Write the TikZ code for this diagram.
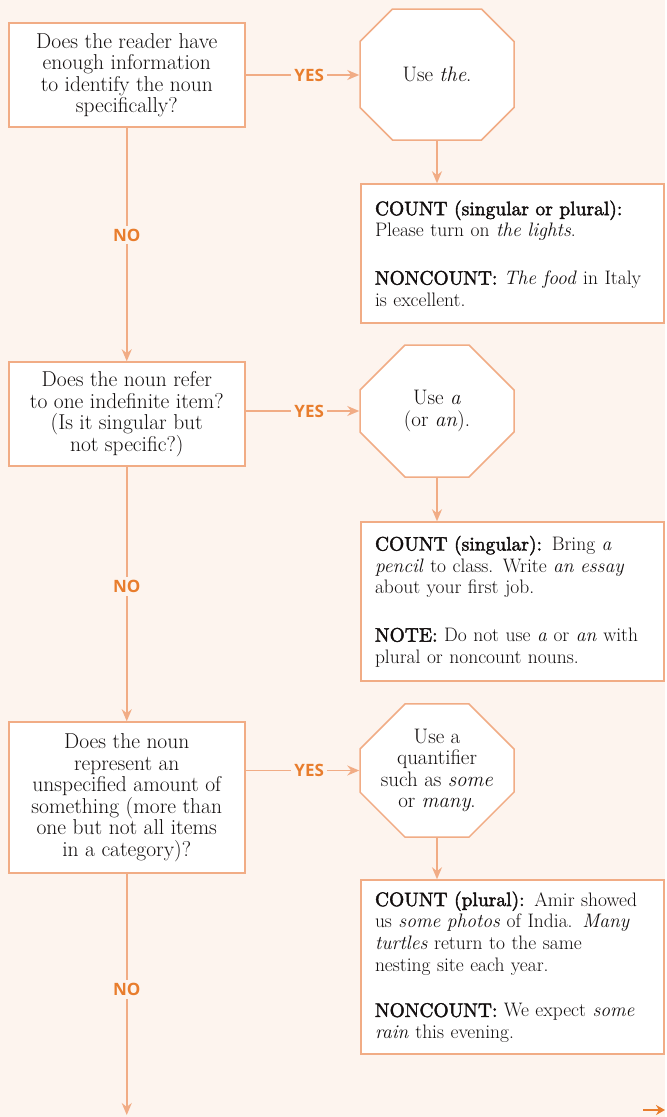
\documentclass[tikz,border=0pt]{standalone}
\usepackage{fontspec}
\newfontfamily\yesnofont{Open Sans}
\newfontfamily\countfont{lmroman10-regular}[Extension=.otf, FakeBold=2]
\usepackage{tikz}
\usetikzlibrary{arrows.meta,shapes.misc,positioning}
\definecolor{pagebg}{RGB}{253,244,238}
\definecolor{flowline}{RGB}{241,172,133}
\definecolor{flowlabel}{RGB}{232,125,45}
\definecolor{inktext}{RGB}{18,14,14}
\newcommand{\exlabel}[1]{{\countfont #1}}

\tikzset{
  question/.style={draw=flowline, line width=1.5pt, fill=white, align=center, minimum width=236pt, inner sep=0pt},
  usebox/.style={chamfered rectangle, chamfered rectangle xsep=20pt, chamfered rectangle ysep=25pt, draw=flowline, line width=1.5pt, fill=white, align=center, minimum width=154pt, inner sep=0pt, font=\fontsize{21}{21.5}\selectfont},
  example/.style={draw=flowline, line width=1.5pt, fill=white, align=left, text width=275pt, inner xsep=14pt, inner ysep=0pt, font=\fontsize{19.5}{21.7}\selectfont},
  flow/.style={flowline, line width=1.5pt, -{Stealth[length=12pt,width=10pt]}},
  answer/.style={fill=pagebg, text=flowlabel, font=\yesnofont\bfseries\fontsize{17}{17}\selectfont, inner sep=3pt},
}

\begin{document}
\begin{tikzpicture}[x=1pt, y=-1pt, every node/.style={font=\fontsize{21.5}{21.5}\selectfont, text=inktext}]
    % Page background
    \fill[pagebg] (0,0) rectangle (665,1117);

    % First question: the
    \node[question, minimum height=104pt] (q1) at (126.75,75) {Does the reader have\\enough information\\to identify the noun\\specifically?};
    \node[usebox, minimum height=131pt] (use1) at (437,74.5) {Use \textit{the}.};
    \node[example, minimum height=139pt] (ex1) at (512.5,253.5) {
        \exlabel{COUNT (singular or plural):}\\
        Please turn on \textit{the lights}.\\[26pt]
        \exlabel{NONCOUNT:} \textit{The food} in Italy\\
        is excellent.};

    % Second question: a or an
    \node[question, minimum height=104pt] (q2) at (126.75,414) {Does the noun refer\\to one indefinite item?\\(Is it singular but\\not specific?)};
    \node[usebox, minimum height=132pt] (use2) at (437,411) {Use \textit{a}\\(or \textit{an}).};
    \node[example, minimum height=159pt] (ex2) at (512.5,601.5) {
        \exlabel{COUNT (singular):} Bring \textit{a}\\
        \textit{pencil} to class. Write \textit{an essay}\\
        about your first job.\\[26pt]
        \exlabel{NOTE:} Do not use \textit{a} or \textit{an} with\\
        plural or noncount nouns.};

    % Third question: quantifier
    \node[question, minimum height=151pt] (q3) at (126.75,797.5) {Does the noun\\represent an\\unspecified amount of\\something (more than\\one but not all items\\in a category)?};
    \node[usebox, minimum height=131pt] (use3) at (437,770.5) {Use a\\quantifier\\such as \textit{some}\\or \textit{many}.};
    \node[example, minimum height=174pt] (ex3) at (512.5,967) {
        \exlabel{COUNT (plural):} Amir showed\\
        us \textit{some photos} of India. \textit{Many}\\
        \textit{turtles} return to the same\\
        nesting site each year.\\[24pt]
        \exlabel{NONCOUNT:} We expect \textit{some}\\
        \textit{rain} this evening.};

    % YES branches
    \draw[flow] (q1.east) -- node[answer, pos=0.56] {YES} (q1.east -| use1.west);
    \draw[flow] (q2.east |- use2.west) -- node[answer, pos=0.56] {YES} (use2.west);
    \draw[flow] (q3.east |- use3.west) -- node[answer, pos=0.56] {YES} (use3.west);

    % Down to the examples
    \draw[flow] (use1.south) -- (use1.south |- ex1.north);
    \draw[flow] (use2.south) -- (use2.south |- ex2.north);
    \draw[flow] (use3.south) -- (use3.south |- ex3.north);

    % NO branches
    \coordinate (q3out) at (126.75,1115);
    \draw[flow] (q1) -- node[answer, pos=0.46] {NO} (q2);
    \draw[flow] (q2) -- node[answer, pos=0.47] {NO} (q3);
    \draw[flow] (q3) -- node[answer, pos=0.48] {NO} (q3out);

    % Turn the page
    \coordinate (turnA) at (643,1110);
    \coordinate (turnB) at (665,1110);
    \draw[flowlabel, line width=2.5pt, -{Stealth[length=9pt,width=10pt]}] (turnA) -- (turnB);
\end{tikzpicture}
\end{document}
